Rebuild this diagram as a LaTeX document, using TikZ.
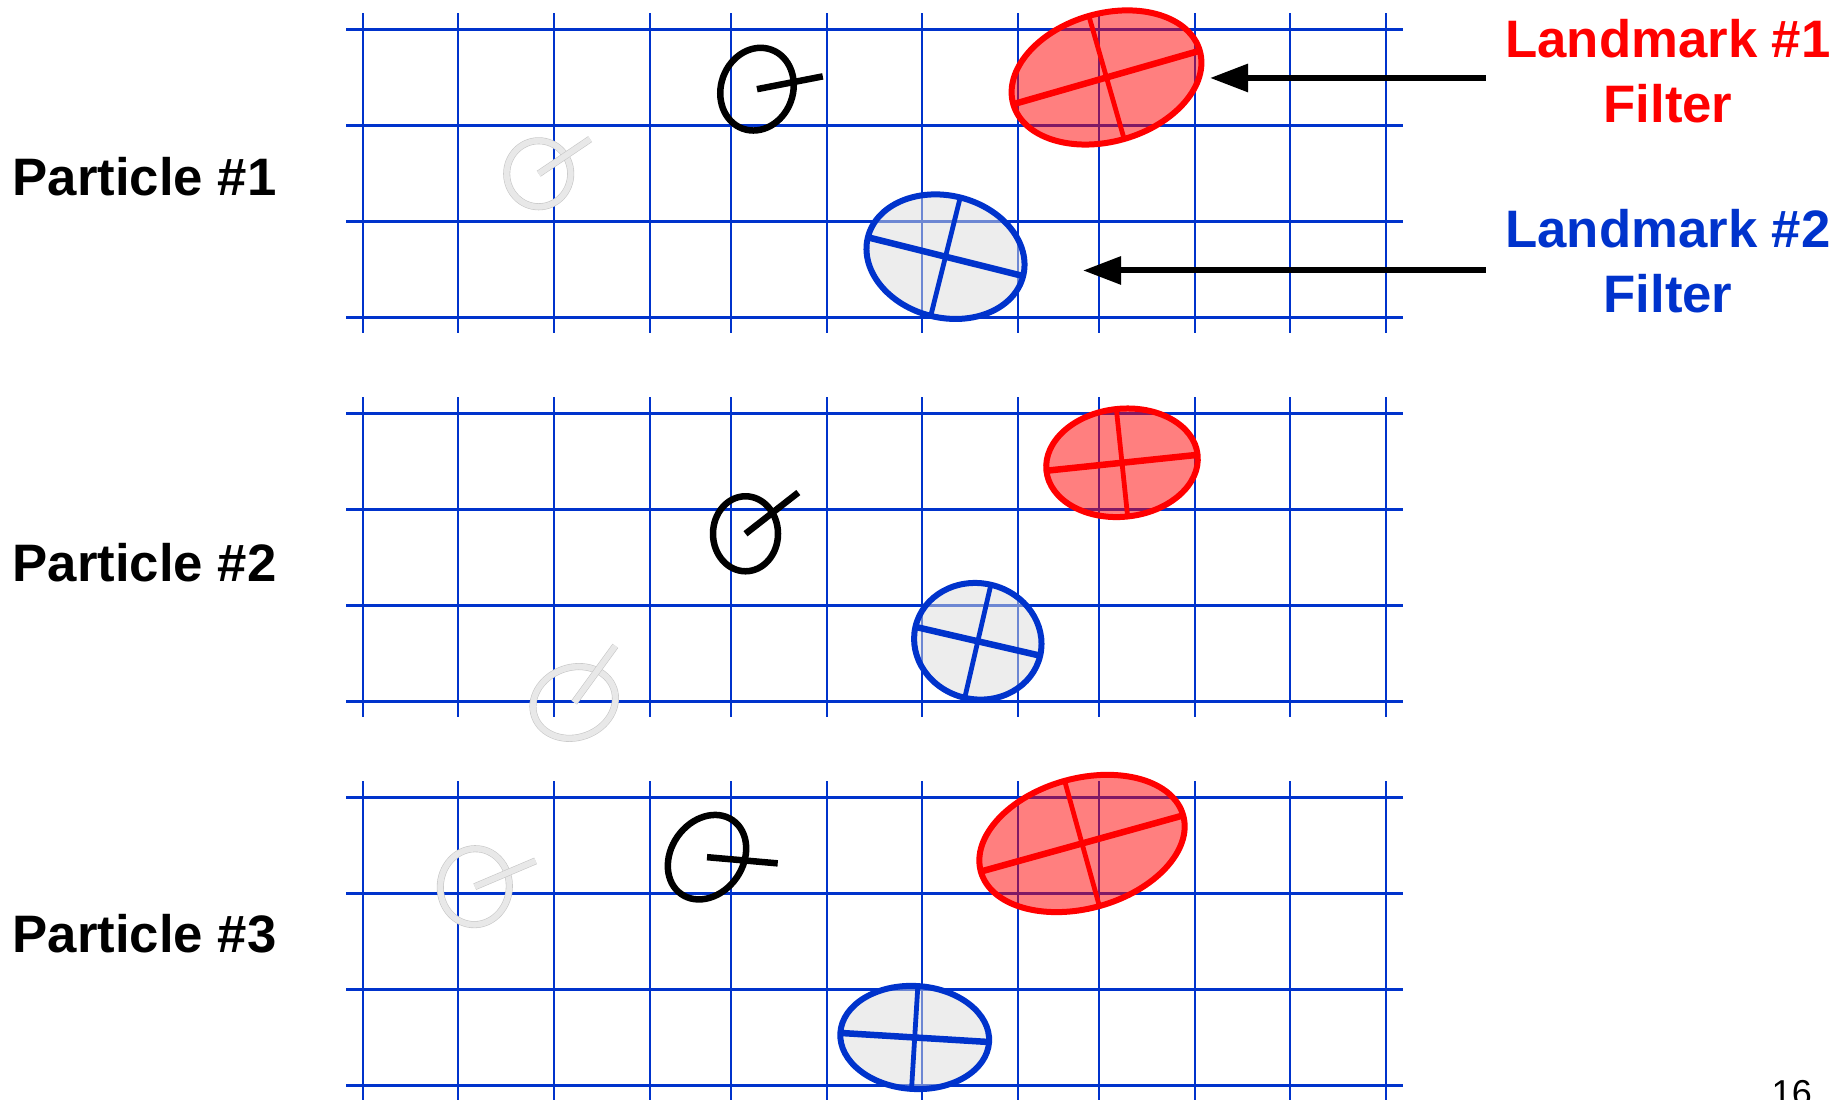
\documentclass[tikz,border=0pt]{standalone}
\usepackage{fontspec}
\setmainfont{Liberation Sans}
\usetikzlibrary{arrows.meta,positioning}
\definecolor{gridblue}{RGB}{0,51,204}

\begin{document}
\begin{tikzpicture}[x=0.1mm, y=0.1mm,
  gridh/.style={gridblue, line width=0.25mm},
  gridv/.style={gridblue, line width=0.2mm},
  robot/.style={black, line width=0.65mm},
  ghost/.style={draw=black!9, line width=0.58mm, preaction={draw=black!22, line width=0.7mm}},
  lmone/.style={draw=red, line width=0.6mm, fill=red, fill opacity=0.5},
  lmtwo/.style={draw=gridblue, line width=0.6mm, fill=black!14, fill opacity=0.5},
  axmaj/.style={line width=0.65mm},
  axmin/.style={line width=0.48mm},
  plabel/.style={anchor=base west, inner sep=0pt, font=\bfseries\fontsize{15}{18.5}\selectfont},
  lmlabel/.style={align=center, inner xsep=1.9mm, inner ysep=0pt, font=\bfseries\fontsize{15}{18.5}\selectfont},
  arr/.style={line width=0.6mm, -{Triangle[length=3.8mm, width=2.7mm]}}]

\useasboundingbox (0,0) rectangle (1837,1100);
\clip (0,0) rectangle (1837,1100);

% grids
\foreach \p in {0,1,2}{
  \foreach \k in {0,...,3}
    \draw[gridh] (346,1070.5-96*\k-384*\p) -- (1403,1070.5-96*\k-384*\p);
  \foreach \x in {363,458,554,650,731,827,922,1018,1099,1195,1290,1386}
    \draw[gridv] (\x,1086.7-384*\p) -- (\x,766.7-384*\p);
}

% Particle #1
\node[plabel] (p1) at (12,904.3) {Particle \#1};
\begin{scope}[shift={(538.7,926.2)}]
  \draw[ghost] (0,0) ellipse [x radius=3.2mm, y radius=3.3mm];
  \draw[ghost] (0,0) -- (34:6.2mm);
\end{scope}
\begin{scope}[shift={(757,1010.8)}]
  \draw[robot, rotate=-20] (0,0) ellipse [x radius=3.6mm, y radius=4.2mm];
  \draw[robot] (0,0) -- (11:6.7mm);
\end{scope}
\begin{scope}[shift={(1106.5,1022.5)}, rotate=16]
  \draw[lmone] (0,0) ellipse [x radius=9.7mm, y radius=6.4mm];
  \draw[red, axmaj] (-9.7mm,0) -- (9.7mm,0);
  \draw[red, axmin] (0,-6.4mm) -- (0,6.4mm);
\end{scope}
\begin{scope}[shift={(945.5,843.3)}, rotate=-14]
  \draw[lmtwo] (0,0) ellipse [x radius=8mm, y radius=6.1mm];
  \draw[gridblue, axmaj] (-8mm,0) -- (8mm,0);
  \draw[gridblue, axmin] (0,-6.1mm) -- (0,6.1mm);
\end{scope}

% Particle #2
\node[plabel] (p2) at (12,518.7) {Particle \#2};
\begin{scope}[shift={(574.2,397.5)}]
  \draw[ghost, rotate=20] (0,0) ellipse [x radius=4.2mm, y radius=3.5mm];
  \draw[ghost] (0,0) -- (54:7mm);
\end{scope}
\begin{scope}[shift={(745.5,566.2)}]
  \draw[robot] (0,0) ellipse [x radius=3.25mm, y radius=3.75mm];
  \draw[robot] (0,0) -- (38:6.7mm);
\end{scope}
\begin{scope}[shift={(1122,637.2)}, rotate=6]
  \draw[lmone] (0,0) ellipse [x radius=7.6mm, y radius=5.4mm];
  \draw[red, axmaj] (-7.6mm,0) -- (7.6mm,0);
  \draw[red, axmin] (0,-5.4mm) -- (0,5.4mm);
\end{scope}
\begin{scope}[shift={(977.8,458.7)}, rotate=-13]
  \draw[lmtwo] (0,0) ellipse [x radius=6.4mm, y radius=5.8mm];
  \draw[gridblue, axmaj] (-6.4mm,0) -- (6.4mm,0);
  \draw[gridblue, axmin] (0,-5.8mm) -- (0,5.8mm);
\end{scope}

% Particle #3
\node[plabel] (p3) at (12,147.2) {Particle \#3};
\begin{scope}[shift={(474.8,213.3)}]
  \draw[ghost, rotate=-5] (0,0) ellipse [x radius=3.45mm, y radius=3.8mm];
  \draw[ghost] (0,0) -- (23:6.6mm);
\end{scope}
\begin{scope}[shift={(707,242.8)}]
  \draw[robot, rotate=-35] (0,0) ellipse [x radius=3.6mm, y radius=4.5mm];
  \draw[robot] (0,0) -- (-5:7.1mm);
\end{scope}
\begin{scope}[shift={(1082,256.5)}, rotate=15.5]
  \draw[lmone] (0,0) ellipse [x radius=10.5mm, y radius=6.5mm];
  \draw[red, axmaj] (-10.5mm,0) -- (10.5mm,0);
  \draw[red, axmin] (0,-6.5mm) -- (0,6.5mm);
\end{scope}
\begin{scope}[shift={(914.7,62.5)}, rotate=-3.5]
  \draw[lmtwo] (0,0) ellipse [x radius=7.45mm, y radius=5.15mm];
  \draw[gridblue, axmaj] (-7.45mm,0) -- (7.45mm,0);
  \draw[gridblue, axmin] (0,-5.15mm) -- (0,5.15mm);
\end{scope}

% filter labels
\node[lmlabel, text=red] (lm1) at (1668,1029) {Landmark \#1\\Filter};
\node[lmlabel, text=gridblue] (lm2) at (1668,839) {Landmark \#2\\Filter};
\coordinate (tip1) at (1210,1022);
\coordinate (tip2) at (1083,829.5);
\draw[arr] (lm1.west |- tip1) -- (tip1);
\draw[arr] (lm2.west |- tip2) -- (tip2);

% page number
\node[anchor=base west, inner sep=0pt, font=\fontsize{10.25}{12}\selectfont] (page) at (1771,-6) {16};

\end{tikzpicture}
\end{document}
